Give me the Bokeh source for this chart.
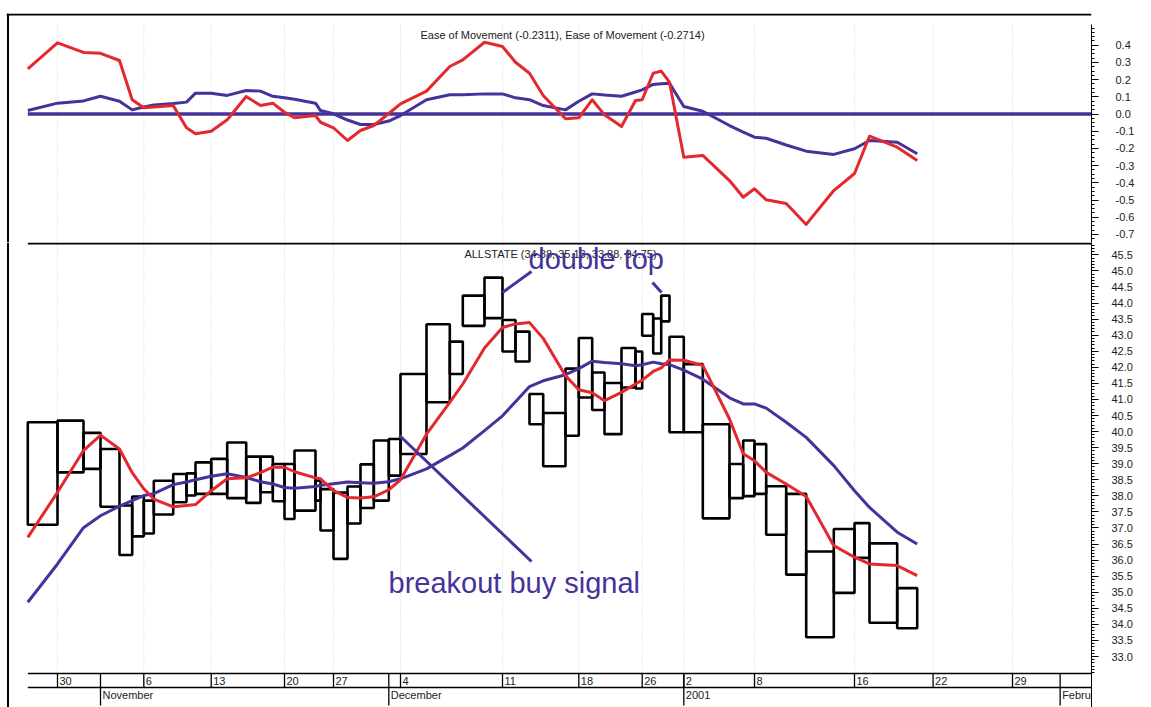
import numpy as np
import pandas as pd
from bokeh.plotting import figure
from bokeh.layouts import column
from bokeh.models import Range1d, FixedTicker, NumeralTickFormatter, Span
from bokeh.core.properties import value
from bokeh.embed import file_html
from bokeh.resources import INLINE

# ---------------- data ----------------
dates = [
    "2000-10-27", "2000-10-30", "2000-10-31", "2000-11-01", "2000-11-02", "2000-11-03",
    "2000-11-06", "2000-11-07", "2000-11-08", "2000-11-09", "2000-11-10",
    "2000-11-13", "2000-11-14", "2000-11-15", "2000-11-16", "2000-11-17",
    "2000-11-20", "2000-11-21", "2000-11-22", "2000-11-24",
    "2000-11-27", "2000-11-28", "2000-11-29", "2000-11-30", "2000-12-01",
    "2000-12-04", "2000-12-05", "2000-12-06", "2000-12-07", "2000-12-08",
    "2000-12-11", "2000-12-12", "2000-12-13", "2000-12-14", "2000-12-15",
    "2000-12-18", "2000-12-19", "2000-12-20", "2000-12-21", "2000-12-22",
    "2000-12-26", "2000-12-27", "2000-12-28", "2000-12-29",
    "2001-01-02", "2001-01-03", "2001-01-04", "2001-01-05",
    "2001-01-08", "2001-01-09", "2001-01-10", "2001-01-11", "2001-01-12",
    "2001-01-16", "2001-01-17", "2001-01-18",
]
# volume in millions of shares (box widths of the equivolume chart)
volume = [2.97, 2.60, 1.70, 1.90, 1.27, 1.16, 1.00, 1.94, 1.33, 0.90, 1.57,
          1.60, 1.90, 1.43, 1.23, 1.17, 1.00, 2.10, 0.50, 1.30,
          1.40, 1.30, 1.33, 1.50, 1.17, 2.60, 2.33, 1.30, 2.17, 1.80,
          1.30, 1.40, 1.37, 2.23, 1.33, 1.34, 1.23, 1.70, 1.40, 0.67,
          1.10, 0.80, 0.83, 1.43, 1.90, 2.67, 1.37, 1.13, 1.17, 2.00,
          2.00, 2.76, 2.07, 1.50, 2.77, 2.00]
high = [40.29, 40.34, 39.96, 39.46, 37.70, 37.98, 37.85, 38.47, 38.68, 38.70, 39.04,
        39.15, 39.66, 39.22, 39.22, 38.99, 38.99, 39.41, 38.47, 38.21,
        38.10, 38.29, 38.98, 39.72, 39.77, 41.79, 43.34, 42.80, 44.23, 44.79,
        43.47, 43.11, 41.17, 40.58, 41.96, 42.91, 41.84, 41.51, 42.60, 42.49,
        43.66, 43.52, 44.23, 42.95, 42.10, 40.23, 38.99, 39.72, 39.61, 38.30,
        38.06, 36.27, 36.97, 37.15, 36.52, 35.13]
low = [37.10, 38.73, 38.84, 37.66, 36.16, 36.74, 36.83, 37.42, 37.80, 38.01, 38.06,
       38.06, 37.93, 37.78, 38.11, 37.83, 37.28, 37.54, 37.85, 36.92,
       36.04, 37.14, 37.62, 37.85, 38.63, 39.30, 40.91, 41.79, 43.29, 43.53,
       42.49, 42.18, 40.23, 38.92, 39.87, 41.06, 40.67, 39.92, 41.37, 41.34,
       42.98, 42.43, 43.43, 39.98, 39.98, 37.30, 37.93, 37.99, 38.06, 36.79,
       35.55, 33.60, 34.98, 36.07, 34.05, 33.88]
# moving averages, one value per box edge
ma_fast = [36.71, 38.11, 39.41, 39.89, 39.46, 38.72, 38.22, 37.90, 37.66, 37.70,
           37.73, 38.16, 38.53, 38.56, 38.72, 38.89, 38.89, 38.75, 38.56, 38.53,
           38.16, 37.95, 37.93, 37.97, 38.19, 38.50, 39.92, 40.91, 41.48, 42.60,
           43.24, 43.35, 43.39, 42.90, 41.74, 41.30, 41.21, 40.96, 41.22, 41.48,
           41.60, 41.87, 41.98, 42.23, 42.22, 42.06, 40.39, 39.31, 39.09, 38.73,
           38.37, 37.98, 36.45, 36.09, 35.88, 35.83, 35.52]
ma_slow = [34.69, 35.88, 37.01, 37.38, 37.68, 37.85, 38.01, 38.07, 38.35, 38.43,
           38.50, 38.61, 38.69, 38.57, 38.44, 38.37, 38.26, 38.24, 38.29, 38.33,
           38.38, 38.43, 38.41, 38.39, 38.44, 38.53, 38.84, 39.25, 39.49, 40.03,
           40.49, 40.93, 41.40, 41.58, 41.77, 41.96, 42.19, 42.15, 42.11, 42.05,
           42.08, 42.16, 42.11, 42.08, 41.91, 41.63, 41.05, 40.86, 40.86, 40.73,
           40.29, 39.82, 38.94, 38.16, 37.64, 36.87, 36.50]
# Ease of Movement (two smoothings), one value per box edge
eom_red = [0.263, 0.414, 0.358, 0.353, 0.311, 0.083, 0.036, 0.041, 0.049, -0.080,
           -0.115, -0.100, -0.034, 0.102, 0.049, 0.063, 0.010, -0.022, -0.009, -0.048,
           -0.080, -0.154, -0.096, -0.067, 0.003, 0.059, 0.133, 0.276, 0.315, 0.417,
           0.392, 0.301, 0.237, 0.108, -0.028, -0.022, 0.083, -0.005, -0.073, 0.078,
           0.083, 0.237, 0.249, 0.185, -0.251, -0.241, -0.387, -0.484, -0.435, -0.499,
           -0.520, -0.642, -0.445, -0.346, -0.129, -0.193, -0.271]
eom_blue = [0.020, 0.063, 0.076, 0.103, 0.074, 0.024, 0.041, 0.052, 0.061, 0.069,
            0.121, 0.121, 0.108, 0.137, 0.133, 0.103, 0.094, 0.086, 0.063, 0.020,
            0.001, -0.035, -0.061, -0.061, -0.041, -0.009, 0.083, 0.112, 0.112, 0.117,
            0.117, 0.094, 0.083, 0.049, 0.024, 0.074, 0.117, 0.110, 0.103, 0.128,
            0.140, 0.172, 0.176, 0.179, 0.044, 0.016, -0.067, -0.105, -0.135, -0.141,
            -0.180, -0.216, -0.235, -0.202, -0.154, -0.164, -0.231]

eom_title = "Ease of Movement (-0.2311), Ease of Movement (-0.2714)"
price_title = "ALLSTATE (34.88, 35.13, 33.88, 34.75)"
eom_ticks = [i / 10 for i in range(-7, 5)]
price_ticks = [i / 2 for i in range(66, 92)]

# ---------------- geometry helpers (pixel layout of the page) ----------------
RED = "#E3282E"
PURPLE = "#46329A"
FONT = "Liberation Sans"
W = 1151
LEFT_PX, RIGHT_PX, SPLIT_PX, BOTTOM_PX, TOP_PX = 6, 1091, 242, 707, 13

def x_at(px):       # page x pixel -> cumulative volume
    return (px - 27.3) / 10.0

def eom_at(py):     # page y pixel -> EOM value (top panel)
    return (113.5 - py) / 172.0

def price_at(py):   # page y pixel -> price (bottom panel)
    return 45.5 - (py - 254.3) / 32.14

X_LO, X_HI = x_at(LEFT_PX), x_at(RIGHT_PX)
DX = x_at(29.3) - x_at(27.3)   # 2px label offset

# equivolume x positions
d = pd.to_datetime(dates)
future = pd.bdate_range(d[-1] + pd.Timedelta(days=1), periods=12)
all_days = d.append(future)
vols = np.array(volume + [float(np.mean(volume))] * len(future))
edges_all = np.concatenate([[0.0], np.cumsum(vols)])
starts_all = edges_all[:-1]
edges = edges_all[:len(volume) + 1]

day_ticks, day_labels, mon_ticks, mon_labels = [], [], [], []
for i in range(1, len(all_days)):
    if starts_all[i] > X_HI:
        break
    if all_days[i].isocalendar()[1] != all_days[i - 1].isocalendar()[1]:
        day_ticks.append(starts_all[i])
        day_labels.append(str(all_days[i].day))
    if all_days[i].month != all_days[i - 1].month:
        mon_ticks.append(starts_all[i])
        mon_labels.append(str(all_days[i].year) if all_days[i].month == 1
                          else all_days[i].strftime("%B"))


def style_axis(ax, standoff):
    ax.axis_line_color = "black"
    ax.axis_line_width = 1
    ax.major_tick_in = 0
    ax.major_tick_out = 7
    ax.minor_tick_in = 0
    ax.minor_tick_out = 3
    ax.major_tick_line_color = "black"
    ax.minor_tick_line_color = "black"
    ax.major_label_standoff = standoff
    ax.major_label_text_font = FONT
    ax.major_label_text_font_size = "11px"
    ax.major_label_text_color = "#222222"
    ax.formatter = NumeralTickFormatter(format="0.0")


# ---------------- top panel: Ease of Movement ----------------
top = figure(width=W, height=SPLIT_PX, output_backend="svg", toolbar_location=None,
             x_range=Range1d(X_LO, X_HI), y_range=Range1d(eom_at(SPLIT_PX), eom_at(TOP_PX)),
             x_axis_location=None, y_axis_location="right",
             min_border_left=LEFT_PX, min_border_right=W - RIGHT_PX,
             min_border_top=TOP_PX, min_border_bottom=0)
top.outline_line_color = None
top.grid.visible = False
ax = top.yaxis[0]
ax.ticker = FixedTicker(ticks=eom_ticks,
                        minor_ticks=[i / 40 for i in range(-29, 21)])
ax.bounds = (eom_at(SPLIT_PX), eom_at(24))
style_axis(ax, 17)

top.segment(x0=day_ticks, x1=day_ticks, y0=eom_at(24), y1=eom_at(SPLIT_PX),
            line_color="#d4d4d4", line_width=1, line_dash="1 2")
top.line([edges[0], X_HI], [0, 0], line_color=PURPLE, line_width=3.5)
top.line(edges, eom_blue, line_color=PURPLE, line_width=3, line_join="round")
top.line(edges, eom_red, line_color=RED, line_width=3, line_join="round")
top.text(x=[x_at(562)], y=[eom_at(34.5)], text=[eom_title], text_align="center",
         text_baseline="alphabetic", text_font=value(FONT),
         text_font_size=value("11px"), text_color="#222222")
top.add_layout(Span(location=x_at(7.5), dimension="height", line_color="black", line_width=2))
top.add_layout(Span(location=eom_at(14), dimension="width", line_color="black", line_width=2))

# ---------------- bottom panel: equivolume price ----------------
bot = figure(width=W, height=BOTTOM_PX - SPLIT_PX, output_backend="svg", toolbar_location=None,
             x_range=Range1d(X_LO, X_HI), y_range=Range1d(price_at(BOTTOM_PX), price_at(SPLIT_PX)),
             x_axis_location=None, y_axis_location="right",
             min_border_left=LEFT_PX, min_border_right=W - RIGHT_PX,
             min_border_top=0, min_border_bottom=0)
bot.outline_line_color = None
bot.grid.visible = False
ay = bot.yaxis[0]
ay.ticker = FixedTicker(ticks=price_ticks,
                        minor_ticks=[i / 10 for i in range(325, 459)])
style_axis(ay, 13)

bot.segment(x0=day_ticks, x1=day_ticks, y0=price_at(SPLIT_PX), y1=price_at(673),
            line_color="#d4d4d4", line_width=1, line_dash="1 2")
bot.quad(left=edges[:-1], right=edges[1:], bottom=low, top=high,
         fill_color=None, line_color="black", line_width=2.6)
bot.line(edges, ma_slow, line_color=PURPLE, line_width=3, line_join="round")
bot.line(edges, ma_fast, line_color=RED, line_width=3, line_join="round")

# separator and date axis rows
bot.segment(x0=[edges[0]] * 3, x1=[X_HI] * 3,
            y0=[price_at(243), price_at(673), price_at(687)],
            y1=[price_at(243), price_at(673), price_at(687)],
            line_color="black", line_width=[2, 1.5, 1.5])
bot.segment(x0=day_ticks, x1=day_ticks, y0=price_at(673), y1=price_at(687),
            line_color="black", line_width=1.3)
bot.segment(x0=mon_ticks, x1=mon_ticks, y0=price_at(673), y1=price_at(705),
            line_color="black", line_width=1.3)
bot.text(x=[t + DX for t in day_ticks], y=price_at(680.5), text=day_labels,
         text_align="left", text_baseline="alphabetic", text_font=value(FONT),
         text_font_size=value("11px"), text_color="#222222")
bot.text(x=[t + DX for t in mon_ticks], y=price_at(694), text=mon_labels,
         text_align="left", text_baseline="alphabetic", text_font=value(FONT),
         text_font_size=value("11px"), text_color="#222222")

bot.text(x=[x_at(560)], y=[price_at(253.5)], text=[price_title], text_align="center",
         text_baseline="alphabetic", text_font=value(FONT),
         text_font_size=value("11px"), text_color="#222222")

# annotations
bot.segment(x0=[x_at(502), x_at(652), x_at(399)],
            y0=[price_at(292), price_at(282), price_at(435)],
            x1=[x_at(531), x_at(661), x_at(531)],
            y1=[price_at(271), price_at(292), price_at(561)],
            line_color=PURPLE, line_width=3)
bot.text(x=[x_at(528), x_at(388)], y=[price_at(258), price_at(582)],
         text=["double top", "breakout buy signal"], text_align="left",
         text_baseline="alphabetic", text_font=value(FONT),
         text_font_size=value("29px"), text_color=PURPLE)

bot.add_layout(Span(location=x_at(7.5), dimension="height", line_color="black", line_width=2))

layout = column(top, bot, spacing=0)
open("out.html", "w").write(file_html(layout, INLINE))
